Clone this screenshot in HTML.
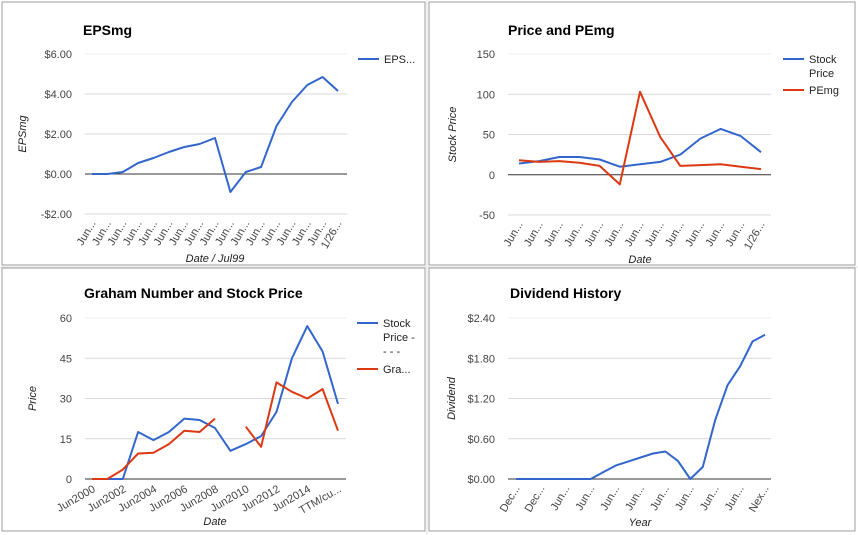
<!DOCTYPE html>
<html><head><meta charset="utf-8">
<style>
html,body{margin:0;padding:0;background:#fff;}
svg{display:block;font-family:"Liberation Sans",Arial,sans-serif;}
</style></head>
<body>
<svg id="root" width="858" height="535" viewBox="0 0 858 535">
  <g stroke="#e2e2e2" stroke-width="1">
    <line x1="0" y1="267" x2="858" y2="267"/>
    <line x1="427" y1="0" x2="427" y2="535"/>
  </g>
  <rect x="2" y="2" width="423" height="263" fill="#fff" stroke="#9e9e9e"/>
  <rect x="429" y="2" width="426" height="263" fill="#fff" stroke="#9e9e9e"/>
  <rect x="2" y="268" width="423" height="263" fill="#fff" stroke="#9e9e9e"/>
  <rect x="429" y="268" width="426" height="263" fill="#fff" stroke="#9e9e9e"/>
</svg>
<script>
// ---- EPSmg chart data ----
const epsLabels = ["Jun...","Jun...","Jun...","Jun...","Jun...","Jun...","Jun...","Jun...","Jun...","Jun...","Jun...","Jun...","Jun...","Jun...","Jun...","Jun...","1/26..."];
const epsValues = [0,0,0.1,0.55,0.8,1.1,1.35,1.5,1.8,-0.9,0.1,0.35,2.4,3.6,4.45,4.85,4.15];
const epsTicks = [-2,0,2,4,6];
const epsTickLabels = ["-$2.00","$0.00","$2.00","$4.00","$6.00"];
// ---- Price and PEmg data ----
const peLabels = ["Jun...","Jun...","Jun...","Jun...","Jun...","Jun...","Jun...","Jun...","Jun...","Jun...","Jun...","Jun...","1/26..."];
const peStock = [14,17,22,22,19,10,13,16,25,45,57,48,28];
const pePE = [18,16,17,15,11,-12,103,47,11,12,13,10,7];
const peTicks = [-50,0,50,100,150];
const peTickLabels = ["-50","0","50","100","150"];
// ---- Graham data ----
const grLabels = ["Jun2000","","Jun2002","","Jun2004","","Jun2006","","Jun2008","","Jun2010","","Jun2012","","Jun2014","","TTM/cu..."];
const grStock = [0,0,0,17.5,14.5,17.5,22.5,22,19,10.5,13,16,25,45,57,47.5,28];
const grGraham = [0,0,3.5,9.5,9.8,13,18,17.5,22.5,null,19.5,12,36,32.5,30,33.5,18];
const grTicks = [0,15,30,45,60];
const grTickLabels = ["0","15","30","45","60"];
// ---- Dividend data ----
const dvLabels = ["Dec...","","Dec...","","Jun...","","Jun...","","Jun...","","Jun...","","Jun...","","Jun...","","Jun...","","Jun...","","Nex..."];
const dvValues = [0,0,0,0,0,0,0,0.1,0.2,0.26,0.32,0.38,0.41,0.27,0,0.18,0.88,1.4,1.68,2.05,2.15];
const dvTicks = [0,0.6,1.2,1.8,2.4];
const dvTickLabels = ["$0.00","$0.60","$1.20","$1.80","$2.40"];

const NS = "http://www.w3.org/2000/svg";
const root = document.getElementById('root');
function mk(tag, attrs, parent){
  const e = document.createElementNS(NS, tag);
  for (const k in attrs) e.setAttribute(k, attrs[k]);
  (parent||root).appendChild(e);
  return e;
}
function chart(cfg){
  const g = mk('g', {});
  
  
  const {x0,x1,yTop,yBot,px0,px1,tMin,tMax} = cfg;
  const ys = v => yBot - (v - tMin) / (tMax - tMin) * (yBot - yTop);
  const n = cfg.labels.length;
  const xs = i => px0 + i * (px1 - px0) / (n - 1);
  const t = mk('text', {x: cfg.titleX, y: cfg.titleY, 'font-size': 14, 'font-weight': 'bold', fill: '#000'}, g);
  t.textContent = cfg.title;
  
  
  cfg.ticks.forEach((v, i) => {
    const y = ys(v);
    const ln = mk('line', {x1: x0, x2: x1, y1: y, y2: y, stroke: v === cfg.baseline ? '#333' : (i === cfg.ticks.length-1 ? '#eee' : '#d9d9d9'), 'stroke-width': 1}, g);
    
    
    const tl = mk('text', {x: x0 - 13, y: y + 4, 'font-size': 11, fill: '#444', 'text-anchor': 'end'}, g);
    tl.textContent = cfg.tickLabels[i];
    
    
  });
  cfg.labels.forEach((lab, i) => {
    if (!lab) return;
    const x = xs(i) + 4, y = yBot + cfg.labelDy;
    const tl = mk('text', {x: x, y: y, 'font-size': 11, fill: '#444', 'text-anchor': 'end', transform: `rotate(${cfg.rot} ${x} ${y})`}, g);
    tl.textContent = lab;
    
    
  });
  const xt = mk('text', {x: cfg.xTitleX, y: cfg.xTitleY, 'font-size': 11, 'font-style': 'italic', fill: '#222', 'text-anchor': 'middle'}, g);
  xt.textContent = cfg.xTitle;
  
  
  const ym = (yTop + yBot) / 2;
  const yt = mk('text', {x: 0, y: 0, 'font-size': 11, 'font-style': 'italic', fill: '#222', 'text-anchor': 'middle', transform: `translate(${cfg.yTitleX} ${ym}) rotate(-90)`}, g);
  yt.textContent = cfg.yTitle;
  
  
  cfg.series.forEach(s => {
    let d = '', pen = false;
    s.values.forEach((v, i) => {
      if (v === null) { pen = false; return; }
      d += (pen ? 'L' : 'M') + xs(i).toFixed(1) + ' ' + ys(v).toFixed(1);
      pen = true;
    });
    const p = mk('path', {d: d, fill: 'none', stroke: s.color, 'stroke-width': 2, 'stroke-linejoin': 'round'}, g);
    
    
  });
  cfg.legend.forEach(l => {
    const lg = mk('g', {}, g);
    
    
    mk('line', {x1: cfg.legX, x2: cfg.legX + 21, y1: l.y, y2: l.y, stroke: l.color, 'stroke-width': 2}, lg);
    l.lines.forEach((txt, k) => {
      const tt = mk('text', {x: cfg.legX + 26, y: l.y + 4 + k * 14, 'font-size': 11, fill: '#222'}, lg);
      tt.textContent = txt;
    });
  });
}
chart({name:'eps-chart', title:'EPSmg', titleX:83, titleY:35, x0:85, x1:347, yTop:54, yBot:214, px0:92, px1:338,
  tMin:-2, tMax:6, ticks:epsTicks, tickLabels:epsTickLabels, baseline:0, labels:epsLabels, rot:-60, labelDy:9,
  xTitle:'Date / Jul99', xTitleX:215, xTitleY:262, yTitle:'EPSmg', yTitleX:26,
  series:[{name:'eps-line', values:epsValues, color:'#3366cc'}],
  legX:358, legend:[{y:59, color:'#3366cc', lines:['EPS...']}]});
chart({name:'price-pe-chart', title:'Price and PEmg', titleX:508, titleY:35, x0:508, x1:771, yTop:54, yBot:215, px0:519, px1:761,
  tMin:-50, tMax:150, ticks:peTicks, tickLabels:peTickLabels, baseline:0, labels:peLabels, rot:-60, labelDy:9,
  xTitle:'Date', xTitleX:640, xTitleY:263, yTitle:'Stock Price', yTitleX:456,
  series:[{name:'stock-price-line', values:peStock, color:'#3366cc'},{name:'pemg-line', values:pePE, color:'#dc3912'}],
  legX:783, legend:[{y:59, color:'#3366cc', lines:['Stock','Price']},{y:90, color:'#dc3912', lines:['PEmg']}]});
chart({name:'graham-chart', title:'Graham Number and Stock Price', titleX:84, titleY:298, x0:85, x1:346, yTop:318, yBot:479, px0:92, px1:338,
  tMin:0, tMax:60, ticks:grTicks, tickLabels:grTickLabels, baseline:0, labels:grLabels, rot:-30, labelDy:12,
  xTitle:'Date', xTitleX:215, xTitleY:525, yTitle:'Price', yTitleX:36,
  series:[{name:'stock-price-line', values:grStock, color:'#3366cc'},{name:'graham-number-line', values:grGraham, color:'#dc3912'}],
  legX:357, legend:[{y:323, color:'#3366cc', lines:['Stock','Price -','- - -']},{y:369, color:'#dc3912', lines:['Gra...']}]});
chart({name:'dividend-chart', title:'Dividend History', titleX:510, titleY:298, x0:508, x1:771, yTop:318, yBot:479, px0:516, px1:765,
  tMin:0, tMax:2.4, ticks:dvTicks, tickLabels:dvTickLabels, baseline:0, labels:dvLabels, rot:-60, labelDy:9,
  xTitle:'Year', xTitleX:640, xTitleY:526, yTitle:'Dividend', yTitleX:455,
  series:[{name:'dividend-line', values:dvValues, color:'#3366cc'}],
  legX:0, legend:[]});
</script>
</body></html>
